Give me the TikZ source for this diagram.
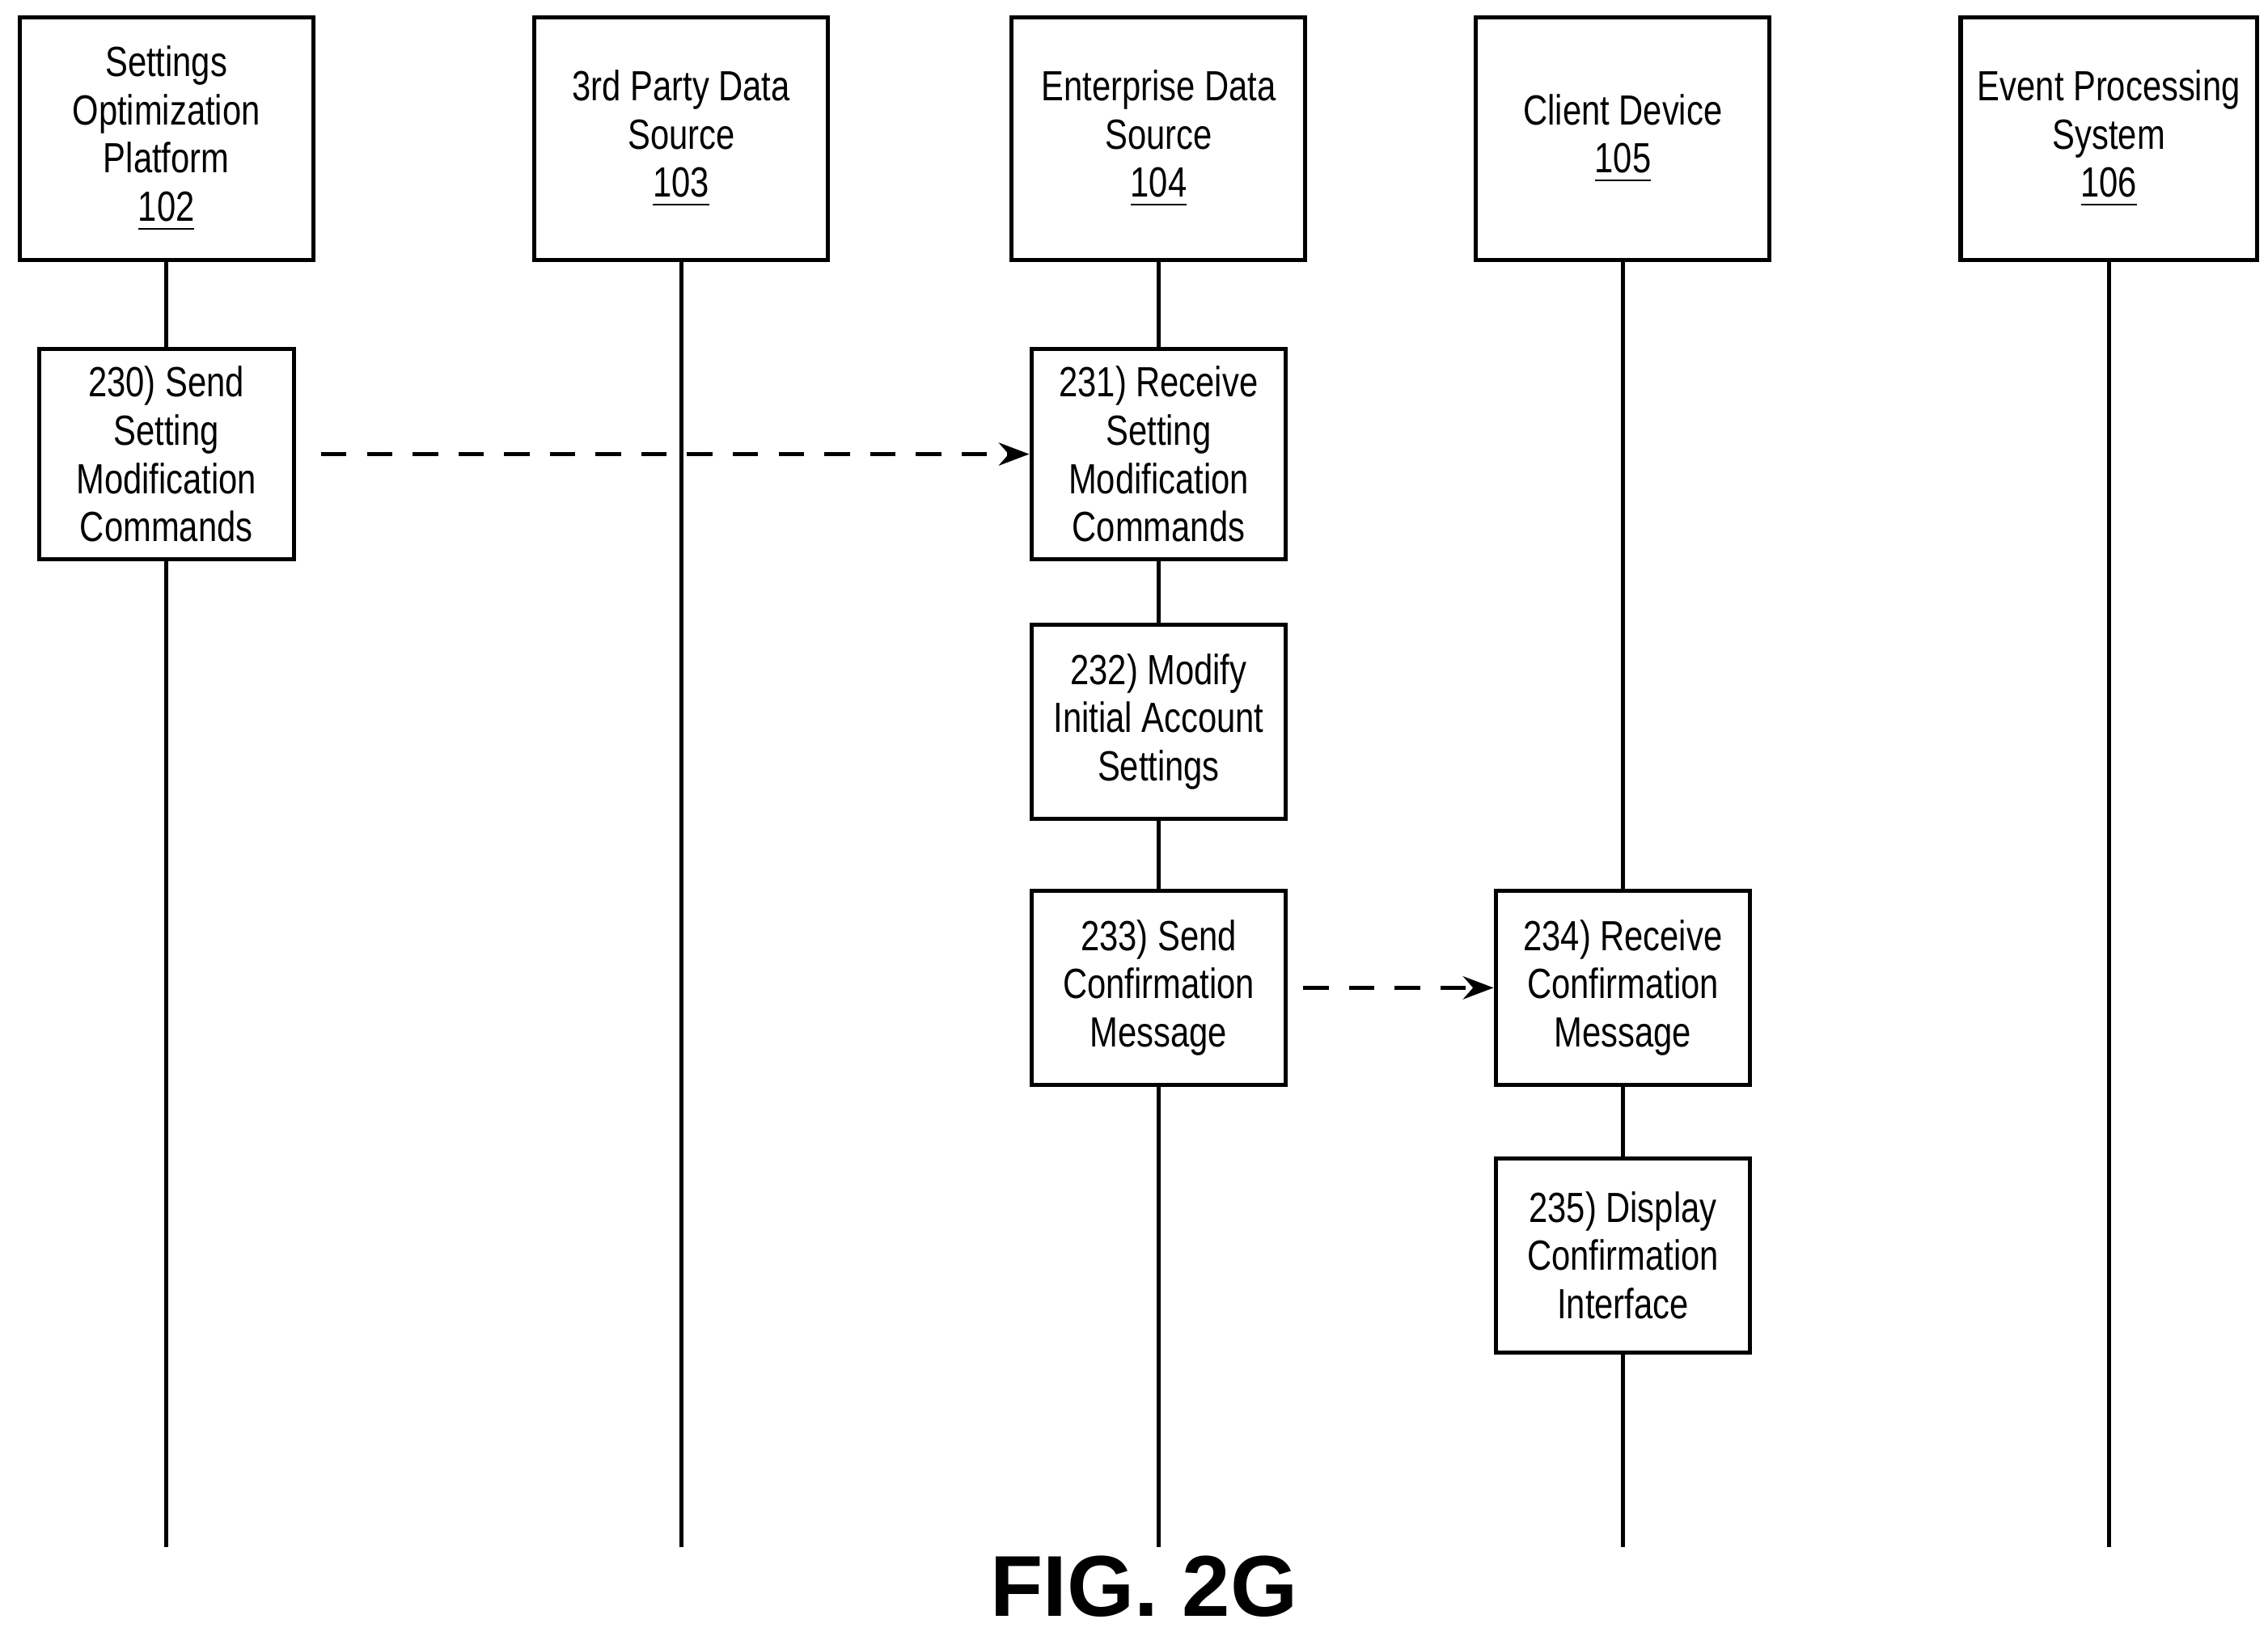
\documentclass[tikz,border=0pt]{standalone}
\usepackage{fontspec}
\setmainfont{Liberation Sans}[FakeStretch=0.8]
\newfontfamily\figfont{Liberation Sans}
\usetikzlibrary{positioning,arrows.meta}
\tikzset{
  entity/.style={draw,thick,minimum width=2.03cm,minimum height=1.68cm,align=center,font=\fontsize{8.3}{9.5}\selectfont},
  stepbox/.style={draw,thick,fill=white,minimum width=1.76cm,minimum height=1.34cm,align=center,font=\fontsize{8.3}{9.5}\selectfont},
  msg/.style={thick,dashed,dash pattern=on 5pt off 4pt,-{Stealth[length=6pt]}},
  life/.style={thick}
}
\begin{document}
\begin{tikzpicture}
\useasboundingbox (0,0) rectangle (15.68,-11.28);
% participants
\node[entity] (sop) at (1.15,-0.96) {Settings\\Optimization\\Platform\\\underline{102}};
\node[entity] (tpd) at (4.71,-0.96) {3rd Party Data\\Source\\\underline{103}};
\node[entity] (eds) at (8.01,-0.96) {Enterprise Data\\Source\\\underline{104}};
\node[entity] (cd) at (11.22,-0.96) {Client Device\\\underline{105}};
\node[entity] (eps) at (14.58,-0.96) {Event Processing\\System\\\underline{106}};
% lifelines
\foreach \p/\n in {sop/sopEnd,tpd/tpdEnd,eds/edsEnd,cd/cdEnd,eps/epsEnd} {
  \coordinate (\n) at (\p |- 0,-10.70);
  \draw[life] (\p) -- (\n);
}
% steps
\node[stepbox] (s230) at (1.15,-3.14) {230) Send\\Setting\\Modification\\Commands};
\node[stepbox] (s231) at (8.01,-3.14) {231) Receive\\Setting\\Modification\\Commands};
\node[stepbox] (s232) at (8.01,-4.99) {232) Modify\\Initial Account\\Settings};
\node[stepbox] (s233) at (8.01,-6.83) {233) Send\\Confirmation\\Message};
\node[stepbox] (s234) at (11.22,-6.83) {234) Receive\\Confirmation\\Message};
\node[stepbox] (s235) at (11.22,-8.68) {235) Display\\Confirmation\\Interface};
% messages
\draw[msg] ([xshift=5pt]s230.east) -- (s231.west);
\draw[msg] ([xshift=3pt]s233.east) -- (s234.west);
\node[font=\figfont\bfseries\fontsize{17}{20}\selectfont] (fig) at (7.91,-10.97) {FIG. 2G};
\end{tikzpicture}
\end{document}
